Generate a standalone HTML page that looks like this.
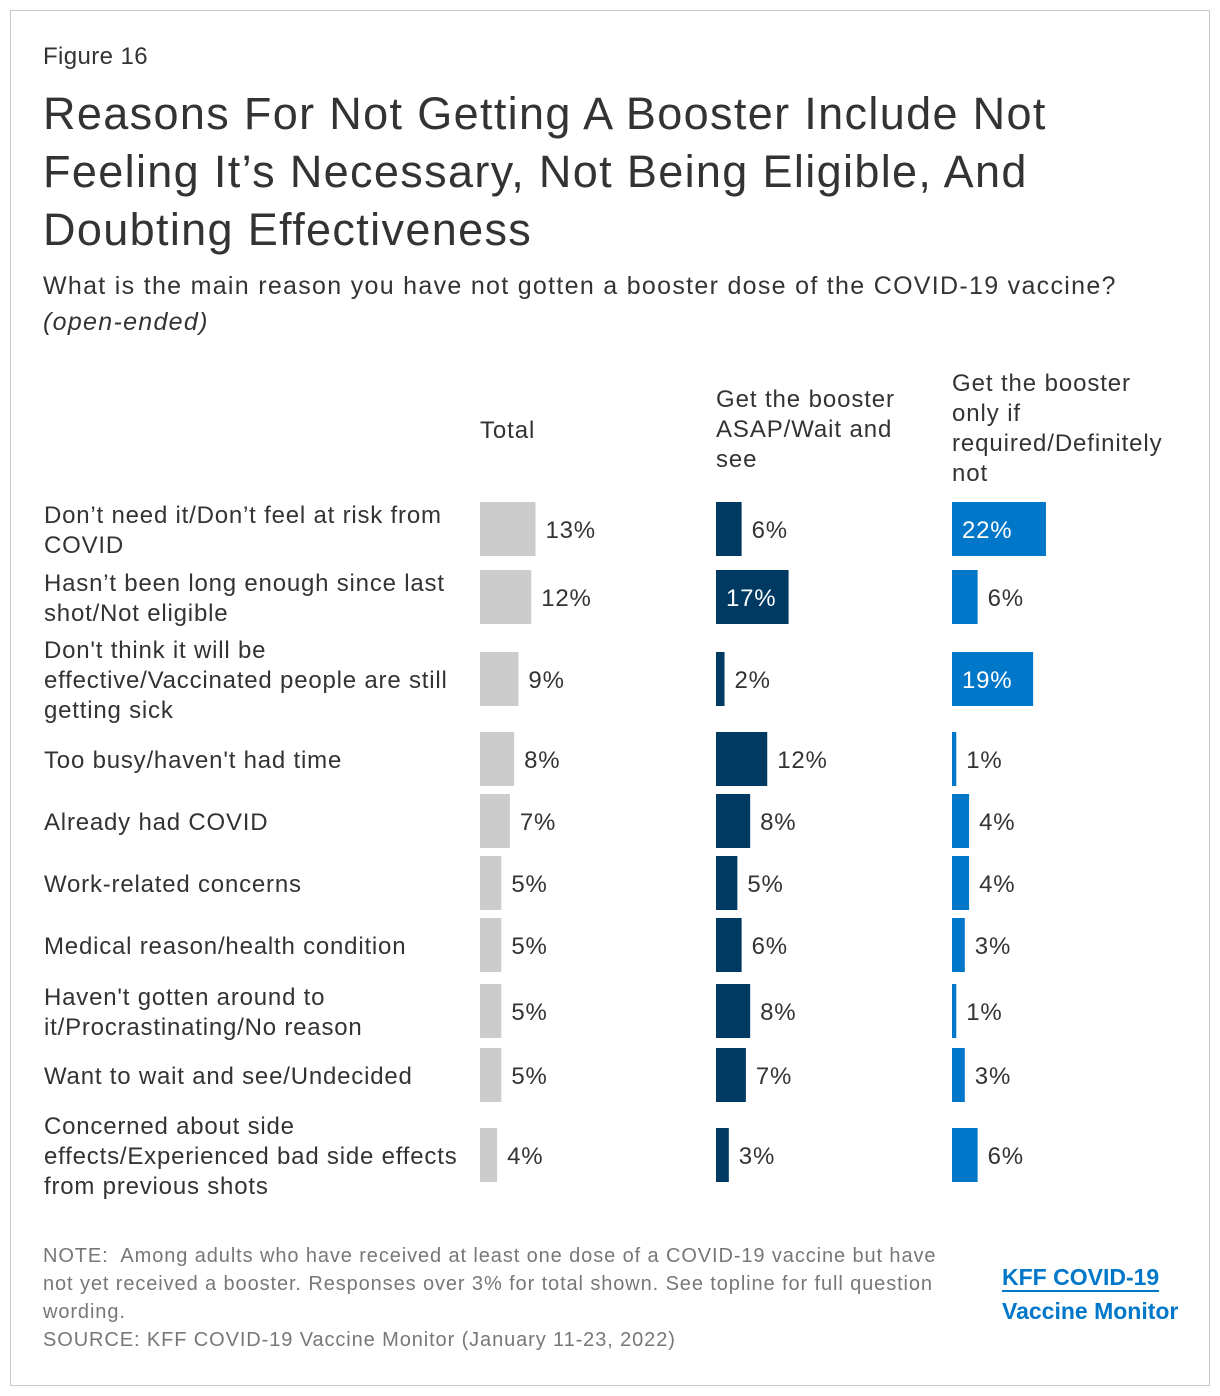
<!DOCTYPE html>
<html><head><meta charset="utf-8"><style>
body{margin:0;background:#fff;font-family:"Liberation Sans",Arial,sans-serif;color:#333}
#frame{position:absolute;left:10px;top:10px;width:1198px;height:1374px;border:1px solid #c8c8c8;background:#fff}
.t{position:absolute;white-space:nowrap}
</style></head><body>
<div id="frame"></div>
<div class="t" style="left:43px;top:43px;font-size:24px;letter-spacing:0.4px;color:#333">Figure 16</div>
<div class="t" style="left:43px;top:85px;font-size:45px;letter-spacing:1.35px;line-height:58px;color:#333">Reasons For Not Getting A Booster Include Not<br>Feeling It’s Necessary, Not Being Eligible, And<br>Doubting Effectiveness</div>
<div class="t" style="left:43px;top:268px;font-size:25px;letter-spacing:1.3px;line-height:36px;color:#333">What is the main reason you have not gotten a booster dose of the COVID-19 vaccine?<br><i>(open-ended)</i></div>
<div class="t" style="left:480px;top:417px;font-size:24px;letter-spacing:0.9px">Total</div>
<div class="t" style="left:716px;top:385px;font-size:24px;letter-spacing:0.9px;line-height:30px">Get the booster<br>ASAP/Wait and<br>see</div>
<div class="t" style="left:952px;top:369px;font-size:24px;letter-spacing:0.9px;line-height:30px">Get the booster<br>only if<br>required/Definitely<br>not</div>
<svg id="chart" width="1220" height="1396" style="position:absolute;left:0;top:0"></svg>
<div class="t" style="left:43px;top:1242px;font-size:20px;letter-spacing:0.9px;line-height:28px;color:#777">NOTE:&nbsp; Among adults who have received at least one dose of a COVID-19 vaccine but have<br>not yet received a booster. Responses over 3% for total shown. See topline for full question<br>wording.<br>SOURCE: KFF COVID-19 Vaccine Monitor (January 11-23, 2022)</div>
<div class="t" style="left:1002px;top:1260px;font-size:23px;line-height:34px;font-weight:bold;color:#0077c8"><span style="border-bottom:2px solid #0077c8">KFF COVID-19</span><br>Vaccine Monitor</div>
<script>
const categories=["Don’t need it/Don’t feel at risk from|COVID","Hasn’t been long enough since last|shot/Not eligible","Don't think it will be|effective/Vaccinated people are still|getting sick","Too busy/haven't had time","Already had COVID","Work-related concerns","Medical reason/health condition","Haven't gotten around to|it/Procrastinating/No reason","Want to wait and see/Undecided","Concerned about side|effects/Experienced bad side effects|from previous shots"];
const totalValues=[13,12,9,8,7,5,5,5,5,4];
const asapValues=[6,17,2,12,8,5,6,8,7,3];
const requiredValues=[22,6,19,1,4,4,3,1,3,6];
const rowCenters=[529,597,679,759,821,883,945,1011,1075,1155];
const NS="http://www.w3.org/2000/svg";
const svg=document.getElementById('chart');
const scale=v=>v*4.27;
const cols=[{x:480,vals:totalValues,color:"#cccccc",name:"total"},{x:716,vals:asapValues,color:"#003a63",name:"asap"},{x:952,vals:requiredValues,color:"#0077c8",name:"required"}];
function txt(x,y,s,fill,name){const t=document.createElementNS(NS,'text');t.setAttribute('x',x);t.setAttribute('y',y);t.setAttribute('font-size','24');t.setAttribute('letter-spacing','0.8');t.setAttribute('fill',fill);t.setAttribute('font-family','Liberation Sans, Arial, sans-serif');t.textContent=s;


svg.appendChild(t);return t;}
categories.forEach((c,i)=>{
  const cy=rowCenters[i];const lines=c.split('|');
  lines.forEach((l,j)=>{txt(44,cy+9+(j-(lines.length-1)/2)*30,l,'#333','category-label');});
  cols.forEach(col=>{
    const v=col.vals[i];const w=scale(v);
    const r=document.createElementNS(NS,'rect');
    r.setAttribute('x',col.x);r.setAttribute('y',cy-27);r.setAttribute('width',w);r.setAttribute('height',54);r.setAttribute('fill',col.color);
    
    
    svg.appendChild(r);
    const inside=v>=15;
    txt(inside?col.x+10:col.x+w+10,cy+9,v+'%',inside?'#fff':'#333','value-label');
  });
});
</script>
</body></html>
